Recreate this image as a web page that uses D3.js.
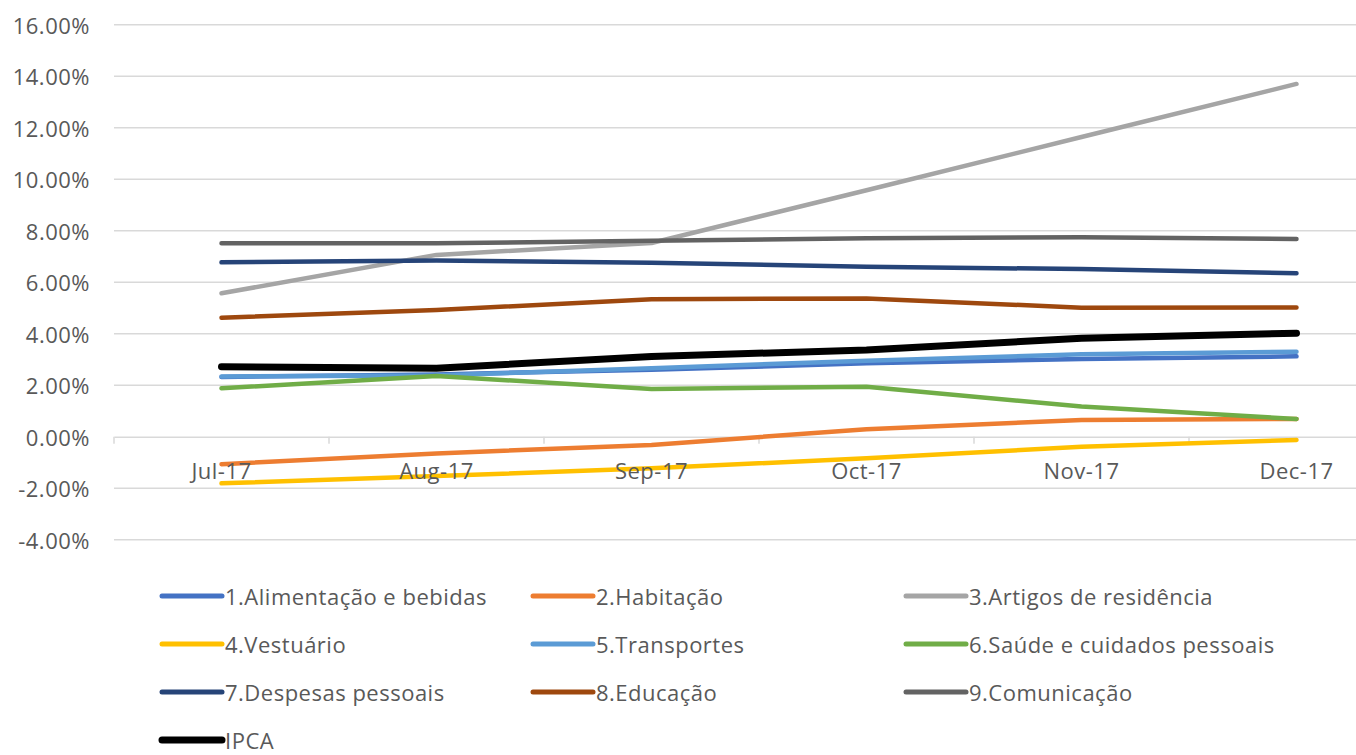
<!DOCTYPE html>
<html><head><meta charset="utf-8">
<script src="https://cdn.jsdelivr.net/npm/d3@7"></script>
<style>
html,body{margin:0;padding:0;background:#fff;}
svg{display:block;}
text{font-family:"Open Sans",sans-serif;fill:#595959;letter-spacing:0.5px;}
</style></head>
<body>
<script>
const months = ["Jul-17","Aug-17","Sep-17","Oct-17","Nov-17","Dec-17"];
const yTicks = [-4,-2,0,2,4,6,8,10,12,14,16];
const seriesNames = ["1.Alimentação e bebidas","2.Habitação","3.Artigos de residência","4.Vestuário","5.Transportes","6.Saúde e cuidados pessoais","7.Despesas pessoais","8.Educação","9.Comunicação","IPCA"];
const seriesColors = ["#4472C4","#ED7D31","#A5A5A5","#FFC000","#5B9BD5","#70AD47","#264478","#9E480E","#636363","#000000"];
const alimentacao = [2.32, 2.42, 2.60, 2.85, 3.02, 3.12];
const habitacao   = [-1.07, -0.65, -0.32, 0.29, 0.65, 0.69];
const artigos     = [5.57, 7.06, 7.52, 9.57, 11.64, 13.70];
const vestuario   = [-1.81, -1.53, -1.23, -0.84, -0.39, -0.13];
const transportes = [2.34, 2.38, 2.66, 2.95, 3.20, 3.30];
const saude       = [1.88, 2.36, 1.85, 1.94, 1.17, 0.69];
const despesas    = [6.77, 6.84, 6.76, 6.60, 6.51, 6.35];
const educacao    = [4.62, 4.92, 5.34, 5.37, 5.01, 5.02];
const comunicacao = [7.51, 7.51, 7.61, 7.71, 7.75, 7.68];
const ipca        = [2.72, 2.66, 3.11, 3.37, 3.82, 4.02];
const seriesValues = [alimentacao, habitacao, artigos, vestuario, transportes, saude, despesas, educacao, comunicacao, ipca];

const W = 1356, H = 755;
const svg = d3.select("body").append("svg").attr("width", W).attr("height", H);

const x = d3.scaleBand().domain(months).range([114, 1404]).paddingInner(0).paddingOuter(0);
const y = d3.scaleLinear().domain([-4, 16]).range([539.7, 24.7]);

// gridlines
svg.append("g").selectAll("line").data(yTicks.filter(d => d !== 0)).join("line")
  .attr("x1", 114).attr("x2", 1404)
  .attr("y1", d => y(d)).attr("y2", d => y(d))
  .attr("stroke", "#d9d9d9").attr("stroke-width", 1.5);

// y labels
svg.append("g").selectAll("text").data(yTicks).join("text")
  .attr("x", 90).attr("y", d => y(d))
  .attr("text-anchor", "end").attr("dominant-baseline", "central")
  .attr("font-size", 22)
  .text(d => d.toFixed(2) + "%");

// zero axis with tick marks
const xAxis = d3.axisBottom(x).tickSize(0).tickFormat("");
const ax = svg.append("g").attr("transform", `translate(0,${y(0)})`).call(xAxis);
ax.select(".domain").attr("stroke", "#d9d9d9").attr("stroke-width", 1.5);
const bounds = months.map(m => x(m)).concat([x(months[months.length-1]) + x.bandwidth()]);
ax.selectAll(".btick").data(bounds).join("line").attr("class","btick")
  .attr("x1", d => d).attr("x2", d => d).attr("y1", 0).attr("y2", 7)
  .attr("stroke", "#d9d9d9").attr("stroke-width", 1.5);

// lines
const line = d3.line().x((d, i) => x(months[i]) + x.bandwidth() / 2).y(d => y(d));
svg.append("g").selectAll("path").data(seriesValues).join("path")
  .attr("d", d => line(d))
  .attr("fill", "none")
  .attr("stroke", (d, i) => seriesColors[i])
  .attr("stroke-width", (d, i) => i === 9 ? 7 : 4.5)
  .attr("stroke-linecap", "round").attr("stroke-linejoin", "round");

// x labels (drawn over lines like Excel)
svg.append("g").selectAll("text").data(months).join("text")
  .attr("x", d => x(d) + x.bandwidth() / 2).attr("y", 470)
  .attr("text-anchor", "middle").attr("dominant-baseline", "central")
  .attr("font-size", 22)
  .text(d => d);

// legend
const colX = [162, 533, 906];
const rowY = [596, 644, 692, 740];
const leg = svg.append("g").selectAll("g").data(seriesNames).join("g")
  .attr("transform", (d, i) => `translate(${colX[i % 3]},${rowY[Math.floor(i / 3)]})`);
leg.append("line").attr("x1", 0).attr("x2", 60).attr("y1", 0).attr("y2", 0)
  .attr("stroke", (d, i) => seriesColors[i])
  .attr("stroke-width", (d, i) => i === 9 ? 7 : 5)
  .attr("stroke-linecap", "round");
leg.append("text").attr("x", 63).attr("y", 0).attr("dominant-baseline", "central")
  .attr("font-size", 22).text(d => d);
</script>
</body></html>
